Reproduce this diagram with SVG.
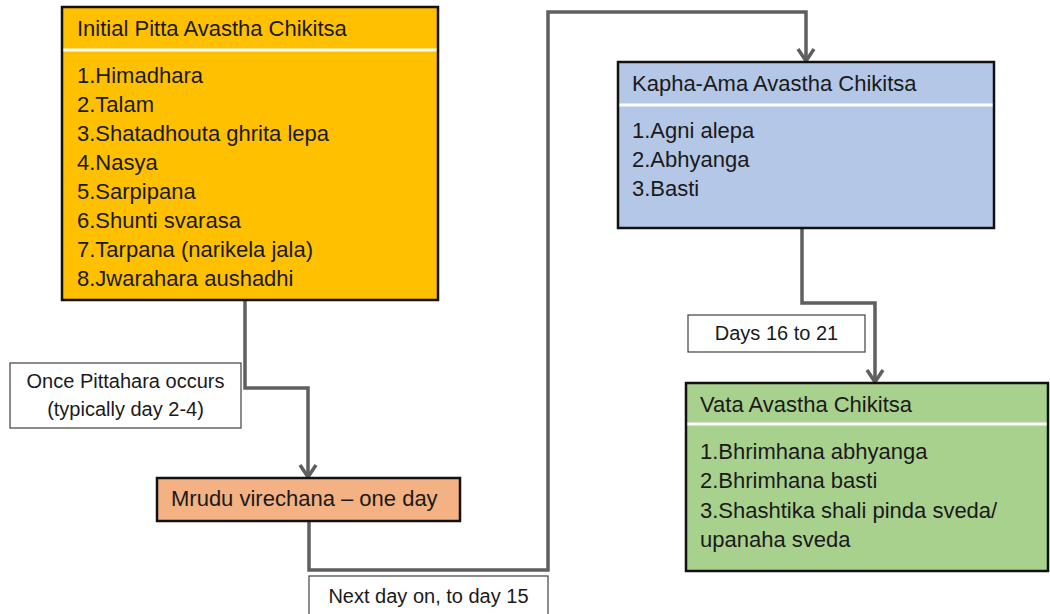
<svg xmlns="http://www.w3.org/2000/svg" width="1050" height="614" viewBox="0 0 1050 614">
<defs>
<style>
.node{stroke:#111;stroke-width:2.5}
.div{stroke:#fff;stroke-width:3}
.t{font-family:"Liberation Sans",Arial,sans-serif;font-size:22px;fill:#1a1a1a}
.l{font-family:"Liberation Sans",Arial,sans-serif;font-size:20px;fill:#1a1a1a;text-anchor:middle}
.lab{fill:#fff;stroke:#404040;stroke-width:1.2}
.con{fill:none;stroke:#5f5f5f;stroke-width:3.5}
</style>
<marker id="arr" markerUnits="userSpaceOnUse" markerWidth="18" markerHeight="20" viewBox="0 0 18 20" refX="15" refY="10" orient="auto">
<path d="M3,2 L15,10 L3,18" fill="none" stroke="#5f5f5f" stroke-width="3.5"/>
</marker>
</defs>
<rect width="1050" height="614" fill="#fff"/>
<g id="connectors">
<path class="con" d="M245,300 V388 H308 V477" marker-end="url(#arr)"/>
<path class="con" d="M309,521 V570 H548 V12 H806 V61" marker-end="url(#arr)"/>
<path class="con" d="M802,228 V303 H875 V382" marker-end="url(#arr)"/>
</g>
<g id="pitta">
<rect class="node" x="62" y="7" width="376" height="293" fill="#FFC000"/>
<line class="div" x1="63.5" y1="50" x2="436.5" y2="50"/>
<text class="t" x="77" y="36">Initial Pitta Avastha Chikitsa</text>
<text class="t" x="77" y="83">1.Himadhara</text>
<text class="t" x="77" y="112">2.Talam</text>
<text class="t" x="77" y="141">3.Shatadhouta ghrita lepa</text>
<text class="t" x="77" y="170">4.Nasya</text>
<text class="t" x="77" y="199">5.Sarpipana</text>
<text class="t" x="77" y="228">6.Shunti svarasa</text>
<text class="t" x="77" y="257">7.Tarpana (narikela jala)</text>
<text class="t" x="77" y="286">8.Jwarahara aushadhi</text>
</g>
<g id="label-pittahara">
<rect class="lab" x="10" y="363" width="231" height="65"/>
<text class="l" x="125.5" y="388">Once  Pittahara occurs</text>
<text class="l" x="125.5" y="416">(typically day 2-4)</text>
</g>
<g id="mrudu">
<rect class="node" x="157" y="478" width="303" height="43" fill="#F4B183"/>
<text class="t" x="171" y="506">Mrudu virechana – one day</text>
</g>
<g id="label-nextday">
<rect class="lab" x="309" y="576" width="239" height="50"/>
<text class="l" x="428.5" y="603">Next day on, to day 15</text>
</g>
<g id="kapha">
<rect class="node" x="618" y="62" width="376" height="166" fill="#B4C7E7"/>
<line class="div" x1="619.5" y1="105" x2="992.5" y2="105"/>
<text class="t" x="632" y="91">Kapha-Ama Avastha Chikitsa</text>
<text class="t" x="632" y="138">1.Agni alepa</text>
<text class="t" x="632" y="167">2.Abhyanga</text>
<text class="t" x="632" y="196">3.Basti</text>
</g>
<g id="label-days">
<rect class="lab" x="688" y="315" width="177" height="37"/>
<text class="l" x="776.5" y="340">Days 16 to 21</text>
</g>
<g id="vata">
<rect class="node" x="686" y="383" width="362" height="188" fill="#A9D18E"/>
<line class="div" x1="687.5" y1="424" x2="1046.5" y2="424"/>
<text class="t" x="700" y="412">Vata Avastha Chikitsa</text>
<text class="t" x="700" y="459">1.Bhrimhana abhyanga</text>
<text class="t" x="700" y="488">2.Bhrimhana basti</text>
<text class="t" x="700" y="518">3.Shashtika shali pinda sveda/</text>
<text class="t" x="700" y="547">upanaha sveda</text>
</g>
</svg>
